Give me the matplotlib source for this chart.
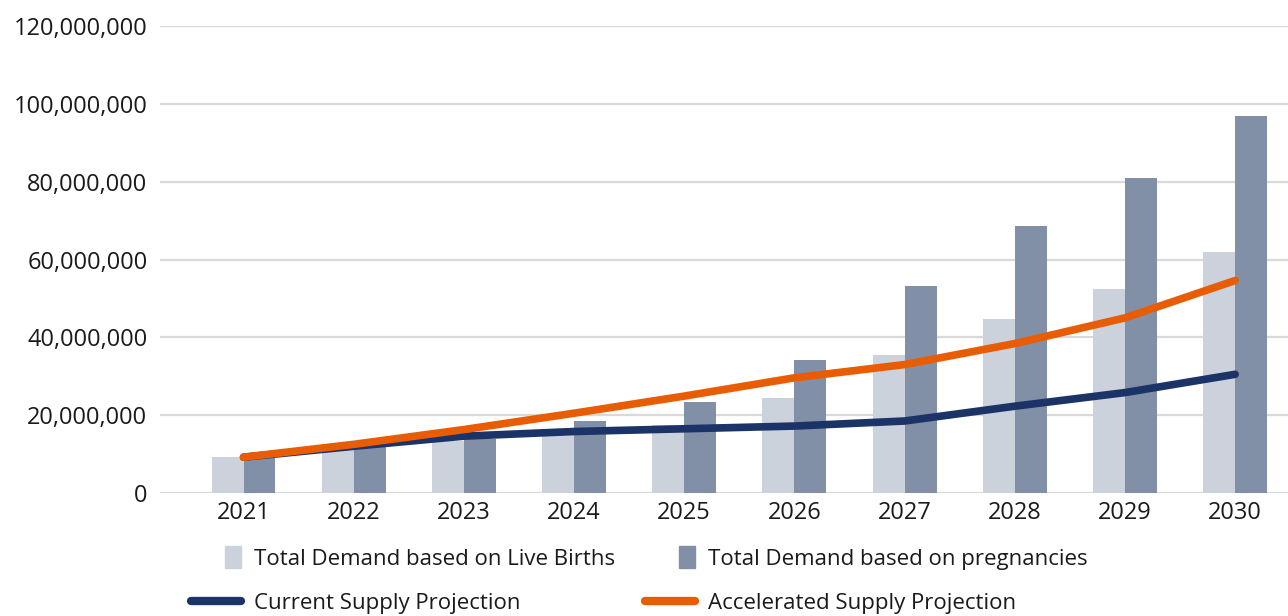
import matplotlib
matplotlib.use('Agg')
from matplotlib import pyplot as plt
from matplotlib.patches import Rectangle
from matplotlib.lines import Line2D
from matplotlib.legend_handler import HandlerPatch
import matplotlib.ticker as mticker
import numpy as np

years = ['2021', '2022', '2023', '2024', '2025', '2026', '2027', '2028', '2029', '2030']
live_births = [9.3e6, 11.2e6, 13.4e6, 16.3e6, 17.6e6, 24.3e6, 35.5e6, 44.8e6, 52.3e6, 61.8e6]
pregnancies = [9.1e6, 11.9e6, 14.0e6, 18.4e6, 23.3e6, 34.2e6, 53.1e6, 68.5e6, 81.0e6, 96.9e6]
current_supply = [9.2e6, 12.0e6, 14.6e6, 15.8e6, 16.5e6, 17.2e6, 18.5e6, 22.3e6, 25.8e6, 30.5e6]
accelerated_supply = [9.2e6, 12.5e6, 16.3e6, 20.5e6, 24.9e6, 29.6e6, 33.0e6, 38.4e6, 45.0e6, 54.6e6]

plt.rcParams['font.family'] = ['Open Sans', 'DejaVu Sans']

LIGHT = '#cbd2dc'
DARK = '#8290a7'
NAVY = '#1b3366'
ORANGE = '#e85d04'
GRID = '#d9d9d9'
TEXT = '#1a1a1a'
TICK_FS = 17
LEG_FS = 16


class SquarePatchHandler(HandlerPatch):
    ''' draws the bar legend swatch as a small box on the right end of the handle slot '''
    def create_artists(self, legend, orig_handle, xdescent, ydescent, width, height, fontsize, trans):
        size = height * 1.4
        p = Rectangle((width - size * 0.75 - xdescent, -ydescent - (size - height) / 2),
                      size * 0.75, size, transform=trans)
        self.update_prop(p, orig_handle, legend)
        p.set_transform(trans)
        return [p]


fig = plt.figure(figsize=(12.88, 6.16), dpi=100)
ax = fig.add_axes([160 / 1288, 1 - 493 / 616, 1 - 160 / 1288, (493 - 26) / 616])

x = np.arange(len(years))
w = 0.29
ax.bar(x - w / 2, live_births, w, color=LIGHT, zorder=2)
ax.bar(x + w / 2, pregnancies, w, color=DARK, zorder=2)
ax.plot(x, current_supply, color=NAVY, lw=5.5, solid_capstyle='round', solid_joinstyle='round', zorder=3)
ax.plot(x, accelerated_supply, color=ORANGE, lw=5.5, solid_capstyle='round', solid_joinstyle='round', zorder=4)

ax.set_xlim(-0.758, 9.48)
ax.set_ylim(0, 120e6)
ax.set_yticks(np.arange(0, 120e6 + 1, 20e6))
ax.yaxis.set_major_formatter(mticker.FuncFormatter(lambda v, p: f'{v:,.0f}'))
ax.set_xticks(x)
ax.set_xticklabels(years)
ax.grid(axis='y', color=GRID, lw=1.6, zorder=0)
ax.set_axisbelow(True)
for s in ax.spines.values():
    s.set_visible(False)
ax.tick_params(axis='both', length=0, labelsize=TICK_FS, colors=TEXT)
ax.tick_params(axis='y', pad=9)
for lab in ax.get_yticklabels():
    lab.set_verticalalignment('center_baseline')
ax.tick_params(axis='x', pad=6)

handles = [
    Rectangle((0, 0), 1, 1, color=LIGHT),
    Line2D([0], [0], color=NAVY, lw=6, solid_capstyle='round'),
    Rectangle((0, 0), 1, 1, color=DARK),
    Line2D([0], [0], color=ORANGE, lw=6, solid_capstyle='round'),
]
labels = ['Total Demand based on Live Births', 'Current Supply Projection',
          'Total Demand based on pregnancies', 'Accelerated Supply Projection']
fig.legend(handles, labels, ncol=2, loc='upper left', bbox_to_anchor=(171 / 1288, 1 - 529 / 616),
           frameon=False, fontsize=LEG_FS, handlelength=2.25, handletextpad=0.6,
           columnspacing=1.33, labelspacing=1.02, labelcolor=TEXT,
           handler_map={Rectangle: SquarePatchHandler()})

fig.savefig('out.png', dpi=100)
